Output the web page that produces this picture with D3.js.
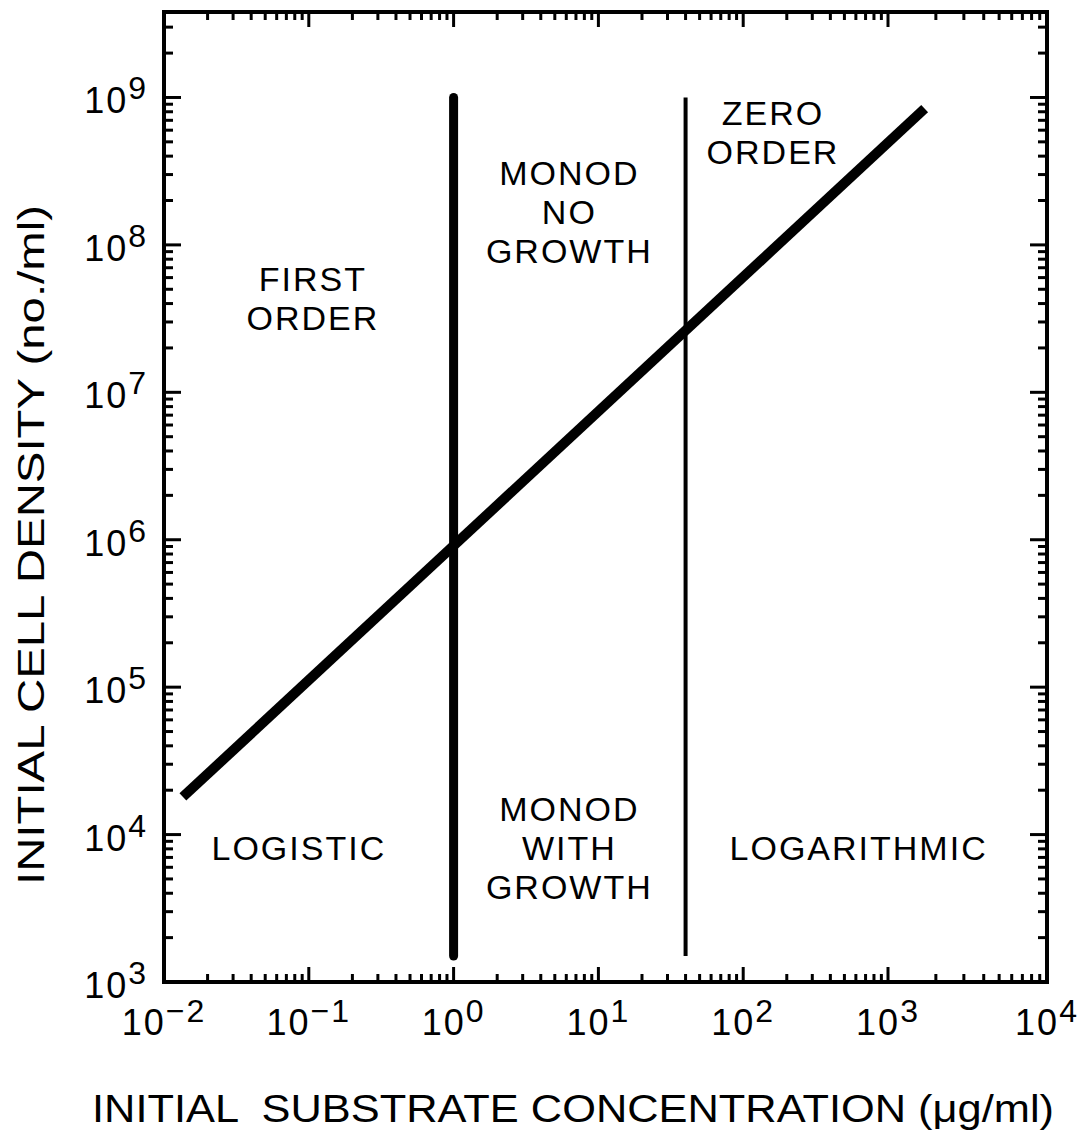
<!DOCTYPE html>
<html>
<head>
<meta charset="utf-8">
<script src="https://cdn.jsdelivr.net/npm/d3@7"></script>
<style>
  html, body { margin: 0; padding: 0; background: #fff; }
  svg { display: block; }
  text { font-family: "Liberation Sans", Arial, Helvetica, sans-serif; fill: #000; }
</style>
</head>
<body>
<svg id="chart" width="1081" height="1136"></svg>
<script>
// Axis decades (powers of ten) shown on each axis
const xDecades = [-2, -1, 0, 1, 2, 3, 4];
const yDecades = [3, 4, 5, 6, 7, 8, 9];
const yTopValue = 3.8e9;

// Regime boundaries: substrate concentrations (ug/ml) and their vertical extent
const boundaryX = [1, 40];
const boundaryY = [1.5e3, 1e9];

// Boundary between growth regimes: cell density vs substrate concentration
const growthBoundary = [
  { s: 0.0135, n: 1.8e4 },
  { s: 1700, n: 8.4e8 }
];

// Regime names and their anchor points in data space
const regimeLabels = [
  { lines: ["FIRST", "ORDER"], s: 0.105, n: 4.4e7 },
  { lines: ["MONOD", "NO", "GROWTH"], s: 6.2, n: 1.7e8 },
  { lines: ["ZERO", "ORDER"], s: 158, n: 5.9e8 },
  { lines: ["LOGISTIC"], s: 0.084, n: 8.2e3 },
  { lines: ["MONOD", "WITH", "GROWTH"], s: 6.2, n: 8.2e3 },
  { lines: ["LOGARITHMIC"], s: 617, n: 8.2e3 }
];

(function () {
const svg = d3.select("#chart");

const x = d3.scaleLog().domain([1e-2, 1e3, 1e4]).range([164, 888, 1047]);
const y = d3.scaleLog().domain([1e3, yTopValue]).range([982, 12]);

const xL = x(1e-2), xR = x(1e4), yB = y(1e3), yT = y(yTopValue);

// Minor and major tick values within the plotted range
const xMinor = [], yMinor = [];
xDecades.slice(0, -1).forEach(d => { for (let k = 2; k <= 9; k++) xMinor.push(k * Math.pow(10, d)); });
yDecades.forEach(d => { for (let k = 2; k <= 9; k++) { const v = k * Math.pow(10, d); if (v < yTopValue) yMinor.push(v); } });
const xMajor = xDecades.map(d => Math.pow(10, d));
const yMajor = yDecades.map(d => Math.pow(10, d));

const g = svg.append("g");
const tickStroke = 3;

// Ticks point inward on all four sides
function xTicks(vals, len) {
  vals.forEach(v => {
    g.append("line").attr("x1", x(v)).attr("x2", x(v)).attr("y1", yB).attr("y2", yB - len)
      .attr("stroke", "#000").attr("stroke-width", tickStroke);
    g.append("line").attr("x1", x(v)).attr("x2", x(v)).attr("y1", yT).attr("y2", yT + len)
      .attr("stroke", "#000").attr("stroke-width", tickStroke);
  });
}
function yTicks(vals, len) {
  vals.forEach(v => {
    g.append("line").attr("y1", y(v)).attr("y2", y(v)).attr("x1", xL).attr("x2", xL + len)
      .attr("stroke", "#000").attr("stroke-width", tickStroke);
    g.append("line").attr("y1", y(v)).attr("y2", y(v)).attr("x1", xR).attr("x2", xR - len)
      .attr("stroke", "#000").attr("stroke-width", tickStroke);
  });
}
xTicks(xMinor, 8);
xTicks(xMajor.slice(1, -1), 15);
yTicks(yMinor, 9);
yTicks(yMajor.slice(1), 17);

// Frame
g.append("rect")
  .attr("x", xL).attr("y", yT)
  .attr("width", xR - xL).attr("height", yB - yT)
  .attr("fill", "none").attr("stroke", "#000").attr("stroke-width", 4);

// Regime boundaries
boundaryX.forEach((v, i) => {
  g.append("line")
    .attr("x1", x(v)).attr("x2", x(v))
    .attr("y1", y(boundaryY[0])).attr("y2", y(boundaryY[1]))
    .attr("stroke", "#000")
    .attr("stroke-width", i === 0 ? 9 : 4)
    .attr("stroke-linecap", i === 0 ? "round" : "butt");
});

// Diagonal boundary
const line = d3.line().x(d => x(d.s)).y(d => y(d.n));
g.append("path")
  .datum(growthBoundary)
  .attr("d", line)
  .attr("fill", "none")
  .attr("stroke", "#000")
  .attr("stroke-width", 10);

// Tick labels: 10 with a raised exponent
xDecades.forEach(d => {
  const t = g.append("text")
    .attr("x", x(Math.pow(10, d)))
    .attr("y", yB + 53)
    .attr("text-anchor", "middle")
    .attr("font-size", 36)
    .attr("letter-spacing", 2);
  t.append("tspan").text("10");
  t.append("tspan").attr("dy", -13).attr("font-size", 32).text(d < 0 ? "\u2212" + Math.abs(d) : String(d));
});
yDecades.forEach(d => {
  const t = g.append("text")
    .attr("x", xL - 16)
    .attr("y", y(Math.pow(10, d)) + 16)
    .attr("text-anchor", "end")
    .attr("font-size", 36)
    .attr("letter-spacing", 2);
  t.append("tspan").text("10");
  t.append("tspan").attr("dy", -14).attr("font-size", 32).text(String(d));
});

// Regime labels
regimeLabels.forEach(r => {
  const lh = 39;
  const t = g.append("text")
    .attr("transform", `translate(${x(r.s)},${y(r.n)})`)
    .attr("text-anchor", "middle")
    .attr("font-size", 34)
    .attr("letter-spacing", 2);
  r.lines.forEach((ln, i) => {
    t.append("tspan").attr("x", 1).attr("y", (i - (r.lines.length - 1) / 2) * lh + 13).text(ln);
  });
});

// Axis titles
g.append("text")
  .attr("transform", "translate(31,545) rotate(-90)")
  .attr("text-anchor", "middle")
  .attr("font-size", 37)
  .attr("textLength", 680)
  .attr("lengthAdjust", "spacingAndGlyphs")
  .attr("dy", "0.35em")
  .text("INITIAL CELL DENSITY (no./ml)");

g.append("text")
  .attr("x", 573)
  .attr("y", 1122)
  .attr("text-anchor", "middle")
  .attr("font-size", 39)
  .attr("textLength", 962)
  .attr("lengthAdjust", "spacingAndGlyphs")
  .attr("xml:space", "preserve")
  .text("INITIAL  SUBSTRATE CONCENTRATION (\u03bcg/ml)");
})();
</script>
</body>
</html>
